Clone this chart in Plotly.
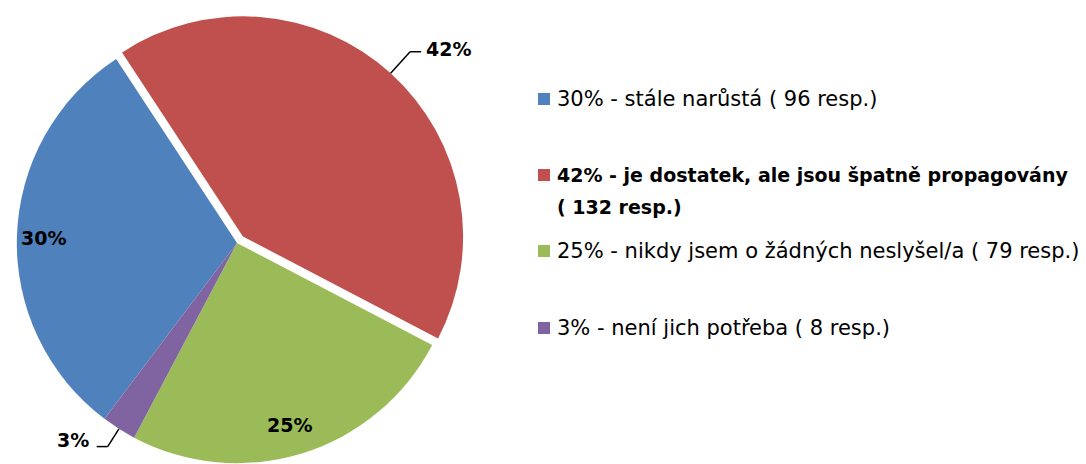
import math
import plotly.graph_objects as go

# ---- data ----
categories = [
    "stále narůstá",
    "je dostatek, ale jsou špatně propagovány",
    "nikdy jsem o žádných neslyšel/a",
    "není jich potřeba",
]
responses = [96, 132, 79, 8]
colors = ["#4F81BD", "#C0504D", "#9BBB59", "#8064A2"]
pulls = [0, 0.04, 0, 0]
bold_items = [False, True, False, False]
label_modes = ["inside", "outside", "inside", "outside"]

# ---- layout constants ----
W, H = 1086, 464
OFF = 8  # page body margin in the rendered html
FONT = "DejaVu Sans"
ROTATION = 217
DOM_X = [0, 458 / W]
DOM_Y = [0, 0.987]

total = sum(responses)
pcts = [round(v / total * 100) for v in responses]

fig = go.Figure(go.Pie(
    labels=categories,
    values=responses,
    marker=dict(colors=colors, line=dict(width=0)),
    pull=pulls,
    sort=False,
    direction="clockwise",
    rotation=ROTATION,
    textinfo="none",
    hoverinfo="label+value+percent",
    domain=dict(x=DOM_X, y=DOM_Y),
    showlegend=False,
))

# pie geometry (figure pixels), same formulas plotly uses
box_w = W * (DOM_X[1] - DOM_X[0])
box_h = H * (DOM_Y[1] - DOM_Y[0])
max_pull = max(pulls)
r = min(box_w, box_h) / 2 / (1 + max_pull)
cx = W * (DOM_X[0] + DOM_X[1]) / 2
cy = H * (1 - DOM_Y[0]) - box_h / 2


def px(x):
    return x / W


def py(y):
    return 1 - y / H


def sx_(x):  # screen px -> paper
    return (x - OFF) / W


def sy_(y):
    return 1 - (y - OFF) / H


annotations = []
shapes = []
angle = ROTATION
for i, v in enumerate(responses):
    span = v / total * 360
    mid = math.radians(angle + span / 2)
    angle += span
    dx, dy = math.sin(mid), -math.cos(mid)
    sx, sy = cx + dx * pulls[i] * r, cy + dy * pulls[i] * r
    txt = f"<b>{pcts[i]}%</b>"
    if label_modes[i] == "inside":
        lx, ly = sx + dx * 0.86 * r, sy + dy * 0.86 * r
        annotations.append(dict(x=px(lx - 4), y=py(ly + 1), xref="paper", yref="paper",
                                text=txt, showarrow=False, xanchor="center", yanchor="middle",
                                font=dict(family=FONT, size=19, color="black")))
    else:
        ax0, ay0 = sx + dx * r, sy + dy * r
        ext = 29 if dy < 0 else 21
        ex, ey = ax0 + dx * ext, ay0 + dy * ext
        side = 1 if dx > 0 else -1
        hx = ex + side * 11
        shapes.append(dict(type="line", xref="paper", yref="paper",
                           x0=px(ax0), y0=py(ay0), x1=px(ex), y1=py(ey),
                           line=dict(color="black", width=1.5)))
        shapes.append(dict(type="line", xref="paper", yref="paper",
                           x0=px(ex), y0=py(ey), x1=px(hx), y1=py(ey),
                           line=dict(color="black", width=1.5)))
        yoff = -3 if dy < 0 else -7
        gap = 3 if side > 0 else 6
        annotations.append(dict(x=px(hx + side * gap), y=py(ey + yoff), xref="paper", yref="paper",
                                text=txt, showarrow=False,
                                xanchor="left" if side > 0 else "right", yanchor="middle",
                                font=dict(family=FONT, size=19, color="black")))

# ---- custom legend (screen coordinates) ----
legend_y = [99, 175, 251, 328]
legend_x_sq = 538
legend_x_txt = 555
sq = 12
line_gap = 32
for i, cat in enumerate(categories):
    if bold_items[i]:
        lines = [f"{pcts[i]}% - {cat}", f"( {responses[i]} resp.)"]
        fsize = 19
    else:
        lines = [f"{pcts[i]}% - {cat} ( {responses[i]} resp.)"]
        fsize = 21
    y0 = legend_y[i]
    shapes.append(dict(type="rect", xref="paper", yref="paper",
                       x0=sx_(legend_x_sq), x1=sx_(legend_x_sq + sq),
                       y0=sy_(y0 - sq / 2), y1=sy_(y0 + sq / 2),
                       fillcolor=colors[i], line=dict(width=0)))
    for k, ln in enumerate(lines):
        t = f"<b>{ln}</b>" if bold_items[i] else ln
        annotations.append(dict(x=sx_(legend_x_txt), y=sy_(y0 + k * line_gap), xref="paper", yref="paper",
                                text=t, showarrow=False, xanchor="left", yanchor="middle",
                                font=dict(family=FONT, size=fsize, color="black")))

fig.update_layout(
    width=W, height=H,
    margin=dict(l=0, r=0, t=0, b=0),
    paper_bgcolor="white",
    plot_bgcolor="white",
    annotations=annotations,
    shapes=shapes,
    font=dict(family=FONT, color="black"),
)

fig.write_html("out.html")
